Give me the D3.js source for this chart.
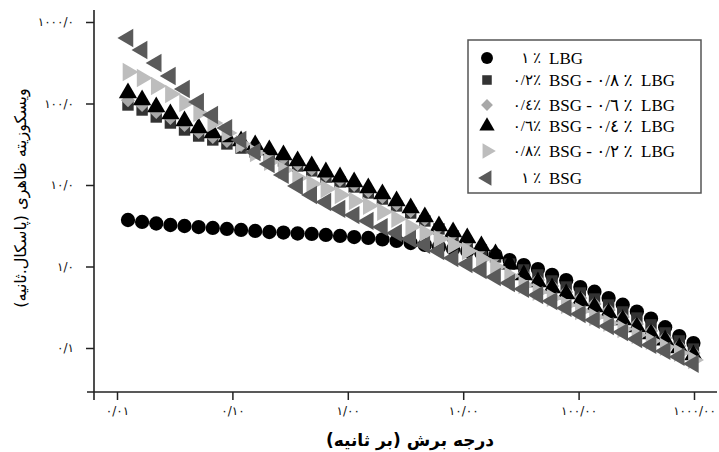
<!doctype html>
<html>
<head>
<meta charset="utf-8">
<title>Apparent viscosity vs shear rate</title>
<script src="https://d3js.org/d3.v7.min.js"></script>
<style>
  body { margin: 0; background: #fff; }
  .tick text { font-family: "DejaVu Sans", sans-serif; fill: #111; }
  .legend text { white-space: pre; }
</style>
</head>
<body>
<div id="chart"></div>
<script>
// shear rate (1/s)
var shearRate = [0.01245, 0.0165, 0.02188, 0.02901, 0.03846, 0.05099, 0.06761, 0.08964, 0.1189, 0.1576,
  0.2089, 0.277, 0.3673, 0.487, 0.6457, 0.8561, 1.135, 1.505, 1.995, 2.646,
  3.508, 4.651, 6.166, 8.175, 10.84, 14.37, 19.05, 25.26, 33.5, 44.41,
  58.88, 78.07, 103.5, 137.3, 182.0, 241.3, 319.9, 424.1, 562.3, 745.6, 988.6];

// apparent viscosity (Pa.s) per blend
var lbg1 = [3.72, 3.52, 3.37, 3.23, 3.14, 3.05, 2.97, 2.89, 2.81, 2.73,
  2.65, 2.61, 2.54, 2.51, 2.44, 2.37, 2.30, 2.24, 2.15, 2.06,
  1.94, 1.84, 1.74, 1.64, 1.55, 1.46, 1.38, 1.20, 1.04, 0.93,
  0.79, 0.68, 0.56, 0.49, 0.41, 0.34, 0.28, 0.23, 0.18, 0.14, 0.115];
var bsg02 = [95.9, 83.2, 68.3, 57.6, 47.3, 39.9, 35.7, 31.9, 28.4, 25.4,
  22.7, 19.7, 17.1, 14.9, 12.5, 10.9, 9.45, 7.98, 6.73, 5.53,
  4.53, 3.62, 2.89, 2.37, 1.94, 1.59, 1.31, 1.07, 0.906, 0.787,
  0.664, 0.560, 0.473, 0.399, 0.337, 0.277, 0.233, 0.192, 0.153, 0.122, 0.097];
var bsg04 = [110, 95.9, 78.7, 66.4, 54.5, 44.7, 38.8, 34.7, 31.0, 27.7,
  24.7, 21.5, 18.1, 15.7, 13.3, 11.5, 10.0, 8.44, 7.13, 5.85,
  4.80, 3.83, 3.05, 2.51, 2.06, 1.69, 1.35, 1.04, 0.809, 0.683,
  0.576, 0.487, 0.411, 0.347, 0.293, 0.240, 0.197, 0.162, 0.133, 0.106, 0.087];
var bsg06 = [134.5, 110.4, 90.6, 74.3, 61.0, 50.0, 43.5, 38.8, 34.7, 31.0,
  26.9, 23.3, 19.7, 17.1, 14.4, 12.5, 10.9, 9.19, 7.76, 6.36,
  5.22, 4.05, 3.14, 2.65, 2.24, 1.78, 1.42, 1.07, 0.787, 0.645,
  0.545, 0.460, 0.377, 0.318, 0.269, 0.221, 0.181, 0.149, 0.125, 0.100, 0.082];
var bsg08 = [243.5, 205.5, 163.9, 130.8, 101.4, 76.5, 57.6, 43.5, 31.8, 24.7,
  19.2, 15.3, 12.2, 10.3, 8.93, 7.54, 6.36, 5.53, 4.67, 3.83,
  3.05, 2.58, 2.18, 1.84, 1.55, 1.24, 0.986, 0.765, 0.593, 0.487,
  0.411, 0.337, 0.284, 0.240, 0.203, 0.171, 0.144, 0.122, 0.103, 0.087, 0.071];
var bsg1 = [636.5, 453.3, 314.0, 217.5, 150.6, 104.3, 72.3, 50.0, 35.7, 25.4,
  18.1, 13.3, 9.72, 7.54, 6.19, 5.08, 4.28, 3.62, 3.05, 2.58,
  2.18, 1.84, 1.55, 1.27, 1.07, 0.906, 0.743, 0.627, 0.530, 0.447,
  0.377, 0.310, 0.261, 0.221, 0.186, 0.157, 0.129, 0.109, 0.092, 0.078, 0.064];

// legend text (percent part / rest)
var legendPrefix = ["١ ٪", "٠/٢٪", "٠/٤٪", "٠/٦٪", "٠/٨٪", "١ ٪"];
var legendRest = ["LBG", "BSG - ٠/٨ ٪  LBG", "BSG - ٠/٦ ٪  LBG", "BSG - ٠/٤ ٪  LBG", "BSG - ٠/٢ ٪  LBG", "BSG"];

// ticks
var xTickValues = [0.01, 0.1, 1, 10, 100, 1000];
var xTickLabels = ["٠/٠١", "٠/١٠", "١/٠٠", "١٠/٠٠", "١٠٠/٠٠", "١٠٠٠/٠٠"];
var yTickValues = [0.1, 1, 10, 100, 1000];
var yTickLabels = ["٠/١", "١/٠", "١٠/٠", "١٠٠/٠", "١٠٠٠/٠"];

var xTitle = "درجه برش (بر ثانیه)";
var yTitle = "ویسکوزیته ظاهری (پاسکال.ثانیه)";

var series = [
  { values: lbg1,  symbol: d3.symbolCircle,   size: 160, rotate: 0,   color: "#000000" },
  { values: bsg02, symbol: d3.symbolSquare,   size: 130, rotate: 0,   color: "#333333" },
  { values: bsg04, symbol: d3.symbolSquare,   size: 100, rotate: 45,  color: "#a8a8a8" },
  { values: bsg06, symbol: d3.symbolTriangle, size: 145, rotate: 0,   color: "#000000" },
  { values: bsg08, symbol: d3.symbolTriangle, size: 145, rotate: 90,  color: "#bdbdbd" },
  { values: bsg1,  symbol: d3.symbolTriangle, size: 145, rotate: -90, color: "#5a5a5a" }
];

var width = 719, height = 452;

var svg = d3.select("#chart").append("svg")
  .attr("width", width)
  .attr("height", height);

var x = d3.scaleLog().domain([0.01, 1000]).range([117, 694]);
var y = d3.scaleLog().domain([0.1, 1000]).range([348, 22]);

// axes
var xAxis = svg.append("g")
  .attr("transform", "translate(0,392)")
  .call(d3.axisBottom(x)
    .tickValues(xTickValues)
    .tickFormat(function(d, i) { return xTickLabels[i]; })
    .tickSize(8)
    .tickPadding(6));
xAxis.select(".domain").remove();
xAxis.selectAll(".tick line").attr("stroke", "#222").attr("stroke-width", 1.5);
xAxis.selectAll(".tick text").style("font-size", "12px").style("letter-spacing", "0.5px");

var yAxis = svg.append("g")
  .attr("transform", "translate(94,0)")
  .call(d3.axisLeft(y)
    .tickValues(yTickValues)
    .tickFormat(function(d, i) { return yTickLabels[i]; })
    .tickSize(8)
    .tickPadding(12));
yAxis.select(".domain").remove();
yAxis.selectAll(".tick line").attr("stroke", "#222").attr("stroke-width", 1.5);
yAxis.selectAll(".tick text").style("font-size", "12px");

// axis lines, crossing a little
svg.append("line").attr("x1", 94).attr("x2", 94).attr("y1", 10).attr("y2", 400)
  .attr("stroke", "#222").attr("stroke-width", 1.6);
svg.append("line").attr("x1", 87).attr("x2", 717).attr("y1", 392).attr("y2", 392)
  .attr("stroke", "#222").attr("stroke-width", 1.6);

// axis titles
svg.append("text")
  .attr("x", 410).attr("y", 446)
  .attr("text-anchor", "middle")
  .style("font-family", "DejaVu Sans, sans-serif")
  .style("font-size", "17px")
  .style("font-weight", "bold")
  .text(xTitle);

svg.append("text")
  .attr("transform", "translate(26,198) rotate(-90)")
  .attr("text-anchor", "middle")
  .style("font-family", "DejaVu Sans, sans-serif")
  .style("font-size", "16px")
  .text(yTitle);

// markers
series.forEach(function(s) {
  svg.append("g")
    .selectAll("path")
    .data(shearRate)
    .enter()
    .append("path")
      .attr("d", d3.symbol().type(s.symbol).size(s.size))
      .attr("transform", function(d, i) {
        return "translate(" + x(d) + "," + y(s.values[i]) + ") rotate(" + s.rotate + ")";
      })
      .style("fill", s.color);
});

// legend
var legendRowY = [58, 80, 105, 126, 151, 178];
var legend = svg.append("g").attr("class", "legend");
legend.append("rect")
  .attr("x", 468).attr("y", 40).attr("width", 233).attr("height", 153)
  .attr("fill", "#fff").attr("stroke", "#555").attr("stroke-width", 1.5);

series.forEach(function(s, i) {
  legend.append("path")
    .attr("d", d3.symbol().type(s.symbol).size(s.size * 0.7))
    .attr("transform", "translate(487," + legendRowY[i] + ") rotate(" + s.rotate + ")")
    .style("fill", s.color);
  legend.append("text")
    .attr("x", 541).attr("y", legendRowY[i]).attr("dy", "0.35em")
    .attr("text-anchor", "end")
    .style("font-family", "Liberation Serif, DejaVu Sans, serif")
    .style("font-size", "15px")
    .text(legendPrefix[i]);
  legend.append("text")
    .attr("x", 549).attr("y", legendRowY[i]).attr("dy", "0.35em")
    .style("font-family", "Liberation Serif, DejaVu Sans, serif")
    .style("font-size", "17px")
    .text(legendRest[i]);
});
</script>
</body>
</html>
